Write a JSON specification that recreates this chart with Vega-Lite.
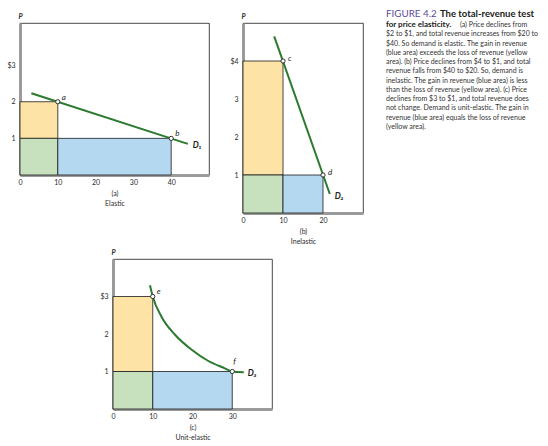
{
  "$schema": "https://vega.github.io/schema/vega-lite/v6.json",
  "padding": {"left": 6, "top": 9, "right": 0, "bottom": 0},
  "background": "white",
  "config": {
    "view": {"stroke": "#1a1a1a", "strokeWidth": 0.8},
    "axis": {
      "grid": false, "ticks": false, "tickSize": 0,
      "domainColor": "#9b9b9b", "domainWidth": 3,
      "labelFont": "Lato", "labelFontSize": 7, "labelColor": "#2b2b2b", "labelFlush": false,
      "titleFont": "Lato", "titleFontSize": 7, "titleFontWeight": "normal", "titleColor": "#2b2b2b"
    },
    "axisX": {"labelPadding": 3, "titlePadding": 4, "titleLineHeight": 10},
    "axisY": {
      "labelPadding": 5, "titleAngle": 0, "titleX": 0, "titleY": -4,
      "titleAlign": "center", "titleBaseline": "bottom",
      "titleFontStyle": "italic", "titleFontWeight": "bold"
    },
    "text": {"font": "Lato", "color": "#222"}
  },
  "datasets": {
    "a_areas": [
      {"q": 0, "q2": 10, "p": 1, "p2": 2, "area": "loss"},
      {"q": 0, "q2": 10, "p": 0, "p2": 1, "area": "kept"},
      {"q": 10, "q2": 40, "p": 0, "p2": 1, "area": "gain"}
    ],
    "a_demand": [{"q": 3, "p": 2.23}, {"q": 44.4, "p": 0.85}],
    "a_points": [{"q": 10, "p": 2, "name": "a"}, {"q": 40, "p": 1, "name": "b"}],
    "a_curve": [{"q": 44.4, "p": 0.85, "name": "D₁"}],
    "b_areas": [
      {"q": 0, "q2": 10, "p": 1, "p2": 4, "area": "loss"},
      {"q": 0, "q2": 10, "p": 0, "p2": 1, "area": "kept"},
      {"q": 10, "q2": 20, "p": 0, "p2": 1, "area": "gain"}
    ],
    "b_demand": [{"q": 7.8, "p": 4.65}, {"q": 21.7, "p": 0.5}],
    "b_points": [{"q": 10, "p": 4, "name": "c"}, {"q": 20, "p": 1, "name": "d"}],
    "b_curve": [{"q": 21.7, "p": 0.5, "name": "D₂"}],
    "c_areas": [
      {"q": 0, "q2": 10, "p": 1, "p2": 3, "area": "loss"},
      {"q": 0, "q2": 10, "p": 0, "p2": 1, "area": "kept"},
      {"q": 10, "q2": 30, "p": 0, "p2": 1, "area": "gain"}
    ],
    "c_demand": [
      {"q": 9.3, "p": 3.3}, {"q": 10, "p": 3.0}, {"q": 12.2, "p": 2.46},
      {"q": 15.6, "p": 1.98}, {"q": 19.8, "p": 1.58}, {"q": 24, "p": 1.28},
      {"q": 28, "p": 1.09}, {"q": 30, "p": 1.0}, {"q": 32.9, "p": 0.98}
    ],
    "c_points": [{"q": 10, "p": 3, "name": "e"}, {"q": 30, "p": 1, "name": "f"}],
    "c_curve": [{"q": 32.9, "p": 0.98, "name": "D₃"}],
    "caption": [
      {"line": 1, "part": "fig", "text": "FIGURE 4.2"},
      {"line": 1, "part": "head1", "text": "The total-revenue test"},
      {"line": 2, "part": "head2", "text": "for price elasticity."},
      {"line": 2, "part": "body2", "text": "(a) Price declines from"},
      {"line": 3, "part": "body", "text": "$2 to $1, and total revenue increases from $20 to"},
      {"line": 4, "part": "body", "text": "$40. So demand is elastic. The gain in revenue"},
      {"line": 5, "part": "body", "text": "(blue area) exceeds the loss of revenue (yellow"},
      {"line": 6, "part": "body", "text": "area). (b) Price declines from $4 to $1, and total"},
      {"line": 7, "part": "body", "text": "revenue falls from $40 to $20. So, demand is"},
      {"line": 8, "part": "body", "text": "inelastic. The gain in revenue (blue area) is less"},
      {"line": 9, "part": "body", "text": "than the loss of revenue (yellow area). (c) Price"},
      {"line": 10, "part": "body", "text": "declines from $3 to $1, and total revenue does"},
      {"line": 11, "part": "body", "text": "not change. Demand is unit-elastic. The gain in"},
      {"line": 12, "part": "body", "text": "revenue (blue area) equals the loss of revenue"},
      {"line": 13, "part": "body", "text": "(yellow area)."}
    ]
  },
  "spacing": 2,
  "vconcat": [
    {
      "bounds": "flush",
      "spacing": 34,
      "hconcat": [
        {
          "width": 189,
          "height": 152,
          "encoding": {
            "x": {"field": "q", "type": "quantitative", "scale": {"domain": [0, 50], "nice": false, "zero": false},
                  "axis": {"values": [0, 10, 20, 30, 40], "title": ["(a)", "Elastic"]}},
            "y": {"field": "p", "type": "quantitative", "scale": {"domain": [0, 4.15], "nice": false},
                  "axis": {"values": [1, 2, 3], "title": "P", "labelExpr": "datum.value == 3 ? '$3' : datum.label"}}
          },
          "layer": [
            {
              "data": {"name": "a_areas"},
              "mark": {"type": "rect", "stroke": "#1a1a1a", "strokeWidth": 0.8},
              "encoding": {
                "x2": {"field": "q2"}, "y2": {"field": "p2"},
                "color": {"field": "area", "type": "nominal", "legend": null,
                          "scale": {"domain": ["loss", "kept", "gain"], "range": ["#fde4a6", "#c7e1bf", "#b5d8f1"]}}
              }
            },
            {"data": {"name": "a_demand"}, "mark": {"type": "line", "color": "#2b7a2f", "strokeWidth": 2}, "encoding": {}},
            {"data": {"name": "a_points"}, "mark": {"type": "point", "filled": true, "fill": "white", "stroke": "#333", "strokeWidth": 1, "size": 18, "opacity": 1}, "encoding": {}},
            {"data": {"name": "a_points"}, "mark": {"type": "text", "align": "left", "baseline": "middle", "dx": 4, "dy": -4, "fontSize": 8, "fontStyle": "italic"}, "encoding": {"text": {"field": "name"}}},
            {"data": {"name": "a_curve"}, "mark": {"type": "text", "align": "left", "baseline": "middle", "dx": 5, "dy": 1, "fontSize": 8.5, "fontStyle": "italic", "fontWeight": "bold"}, "encoding": {"text": {"field": "name"}}},
            {"mark": {"type": "text", "text": "Q", "align": "left", "baseline": "middle", "dx": 3, "fontSize": 8, "fontWeight": "bold"}, "encoding": {"x": {"datum": 50}, "y": {"datum": 0}}}
          ]
        },
        {
          "width": 120,
          "height": 190,
          "encoding": {
            "x": {"field": "q", "type": "quantitative", "scale": {"domain": [0, 30], "nice": false, "zero": false},
                  "axis": {"values": [0, 10, 20], "title": ["(b)", "Inelastic"]}},
            "y": {"field": "p", "type": "quantitative", "scale": {"domain": [0, 5], "nice": false},
                  "axis": {"values": [1, 2, 3, 4], "title": "P", "labelExpr": "datum.value == 4 ? '$4' : datum.label"}}
          },
          "layer": [
            {
              "data": {"name": "b_areas"},
              "mark": {"type": "rect", "stroke": "#1a1a1a", "strokeWidth": 0.8},
              "encoding": {
                "x2": {"field": "q2"}, "y2": {"field": "p2"},
                "color": {"field": "area", "type": "nominal", "legend": null,
                          "scale": {"domain": ["loss", "kept", "gain"], "range": ["#fde4a6", "#c7e1bf", "#b5d8f1"]}}
              }
            },
            {"data": {"name": "b_demand"}, "mark": {"type": "line", "color": "#2b7a2f", "strokeWidth": 2}, "encoding": {}},
            {"data": {"name": "b_points"}, "mark": {"type": "point", "filled": true, "fill": "white", "stroke": "#333", "strokeWidth": 1, "size": 18, "opacity": 1}, "encoding": {}},
            {"data": {"name": "b_points"}, "mark": {"type": "text", "align": "left", "baseline": "middle", "dx": 5, "dy": -2, "fontSize": 8, "fontStyle": "italic"}, "encoding": {"text": {"field": "name"}}},
            {"data": {"name": "b_curve"}, "mark": {"type": "text", "align": "left", "baseline": "middle", "dx": 5, "dy": 2, "fontSize": 8.5, "fontStyle": "italic", "fontWeight": "bold"}, "encoding": {"text": {"field": "name"}}},
            {"mark": {"type": "text", "text": "Q", "align": "left", "baseline": "middle", "dx": 3, "fontSize": 8, "fontWeight": "bold"}, "encoding": {"x": {"datum": 30}, "y": {"datum": 0}}}
          ]
        },
        {
          "width": 160,
          "height": 110,
          "view": {"stroke": null},
          "data": {"name": "caption"},
          "encoding": {
            "x": {"datum": 0, "type": "quantitative", "scale": {"domain": [0, 1]}, "axis": null},
            "y": {"field": "line", "type": "quantitative", "scale": {"domain": [1.784, 13.65], "reverse": true, "nice": false, "zero": false}, "axis": null},
            "text": {"field": "text"}
          },
          "layer": [
            {"transform": [{"filter": "datum.part == 'fig'"}], "mark": {"type": "text", "align": "left", "baseline": "middle", "dx": -11, "dy": -1.5, "fontSize": 9.8, "color": "#5a4c9c"}},
            {"transform": [{"filter": "datum.part == 'head1'"}], "mark": {"type": "text", "align": "left", "baseline": "middle", "dx": 43, "dy": -1.5, "fontSize": 9.5, "fontWeight": "bold", "color": "#1a1a1a"}},
            {"transform": [{"filter": "datum.part == 'head2'"}], "mark": {"type": "text", "align": "left", "baseline": "middle", "dx": -11, "fontSize": 8, "fontWeight": "bold", "color": "#1a1a1a"}},
            {"transform": [{"filter": "datum.part == 'body2'"}], "mark": {"type": "text", "align": "left", "baseline": "middle", "dx": 63, "fontSize": 7, "color": "#333"}},
            {"transform": [{"filter": "datum.part == 'body'"}], "mark": {"type": "text", "align": "left", "baseline": "middle", "dx": -11, "fontSize": 7, "color": "#333"}}
          ]
        }
      ]
    },
    {
      "bounds": "flush",
      "spacing": 20,
      "hconcat": [
        {"width": 73, "height": 150, "view": {"stroke": null}, "data": {"values": []}, "mark": {"type": "point", "opacity": 0}},
        {
          "width": 159,
          "height": 150,
          "encoding": {
            "x": {"field": "q", "type": "quantitative", "scale": {"domain": [0, 40], "nice": false, "zero": false},
                  "axis": {"values": [0, 10, 20, 30], "title": ["(c)", "Unit-elastic"]}},
            "y": {"field": "p", "type": "quantitative", "scale": {"domain": [0, 4], "nice": false},
                  "axis": {"values": [1, 2, 3], "title": "P", "labelExpr": "datum.value == 3 ? '$3' : datum.label"}}
          },
          "layer": [
            {
              "data": {"name": "c_areas"},
              "mark": {"type": "rect", "stroke": "#1a1a1a", "strokeWidth": 0.8},
              "encoding": {
                "x2": {"field": "q2"}, "y2": {"field": "p2"},
                "color": {"field": "area", "type": "nominal", "legend": null,
                          "scale": {"domain": ["loss", "kept", "gain"], "range": ["#fde4a6", "#c7e1bf", "#b5d8f1"]}}
              }
            },
            {"data": {"name": "c_demand"}, "mark": {"type": "line", "color": "#2b7a2f", "strokeWidth": 2, "interpolate": "monotone"}, "encoding": {}},
            {"data": {"name": "c_points"}, "mark": {"type": "point", "filled": true, "fill": "white", "stroke": "#333", "strokeWidth": 1, "size": 18, "opacity": 1}, "encoding": {}},
            {"data": {"name": "c_points"}, "transform": [{"filter": "datum.name == 'e'"}], "mark": {"type": "text", "align": "left", "baseline": "middle", "dx": 4, "dy": -5, "fontSize": 8, "fontStyle": "italic"}, "encoding": {"text": {"field": "name"}}},
            {"data": {"name": "c_points"}, "transform": [{"filter": "datum.name == 'f'"}], "mark": {"type": "text", "align": "left", "baseline": "middle", "dx": 1, "dy": -10, "fontSize": 8, "fontStyle": "italic"}, "encoding": {"text": {"field": "name"}}},
            {"data": {"name": "c_curve"}, "mark": {"type": "text", "align": "left", "baseline": "middle", "dx": 4, "dy": 1, "fontSize": 8.5, "fontStyle": "italic", "fontWeight": "bold"}, "encoding": {"text": {"field": "name"}}},
            {"mark": {"type": "text", "text": "Q", "align": "left", "baseline": "middle", "dx": 3, "fontSize": 8, "fontWeight": "bold"}, "encoding": {"x": {"datum": 40}, "y": {"datum": 0}}}
          ]
        }
      ]
    }
  ]
}
